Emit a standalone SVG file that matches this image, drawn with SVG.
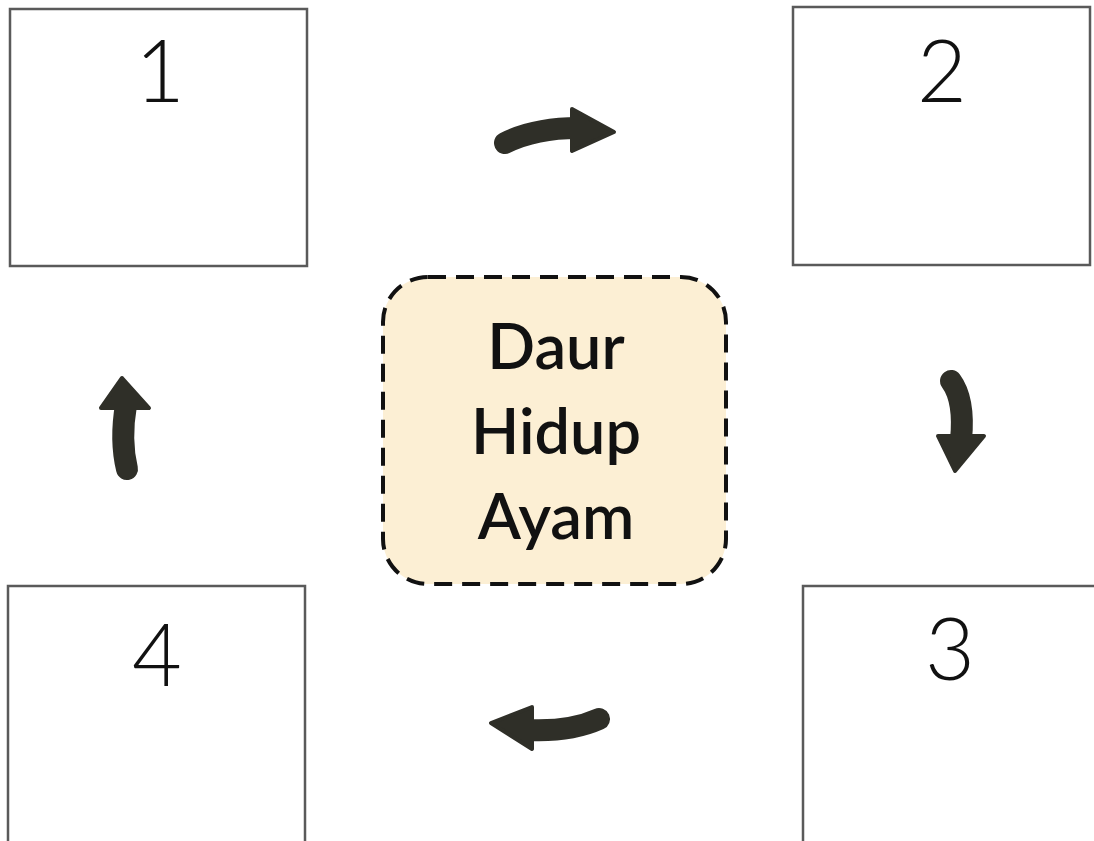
<svg xmlns="http://www.w3.org/2000/svg" width="1094" height="841" viewBox="0 0 1094 841">
<style>
.box{fill:#fff;stroke:#5a5a5a;stroke-width:2.5}
.num{font-family:Lato,"DejaVu Sans",sans-serif;font-weight:300;font-size:86px;fill:#111;text-anchor:middle}
.title{font-family:Lato,"Open Sans",sans-serif;font-weight:600;font-size:63px;fill:#111;text-anchor:middle}
.shaft{fill:none;stroke:#2f2f28;stroke-width:22;stroke-linecap:round}
.head{fill:#2f2f28;stroke:#2f2f28;stroke-width:4;stroke-linejoin:round}
</style>
<rect width="1094" height="841" fill="#fff"/>
<g id="node1"><rect class="box" x="10" y="9" width="297" height="257"/><text class="num" x="160" y="102">1</text></g>
<g id="node2"><rect class="box" x="793" y="7" width="297" height="258"/><text class="num" x="942" y="102">2</text></g>
<g id="node3"><rect class="box" x="803" y="586" width="300" height="270"/><text class="num" x="950" y="680">3</text></g>
<g id="node4"><rect class="box" x="8" y="586" width="297" height="270"/><text class="num" x="157" y="686">4</text></g>
<g id="center">
<rect x="383" y="277" width="343" height="307" rx="45" ry="45" fill="#fcefd4" stroke="#111" stroke-width="4" stroke-dasharray="18 10"/>
<text class="title" x="556" y="369">Daur</text>
<text class="title" x="556" y="454">Hidup</text>
<text class="title" x="556" y="539">Ayam</text>
</g>
<g id="connectors">
<path class="shaft" d="M505 143 Q535 128 578 128"/>
<polygon class="head" points="572,109 614,132 572,151"/>
<path class="shaft" d="M951 381 Q965 400 961 440"/>
<polygon class="head" points="938,436 955,471 984,436"/>
<path class="shaft" d="M599 719 Q570 732 528 730"/>
<polygon class="head" points="532,707 491,723 532,749"/>
<path class="shaft" d="M127 469 Q120 440 126 405"/>
<polygon class="head" points="101,408 122,378 149,408"/>
</g>
</svg>
